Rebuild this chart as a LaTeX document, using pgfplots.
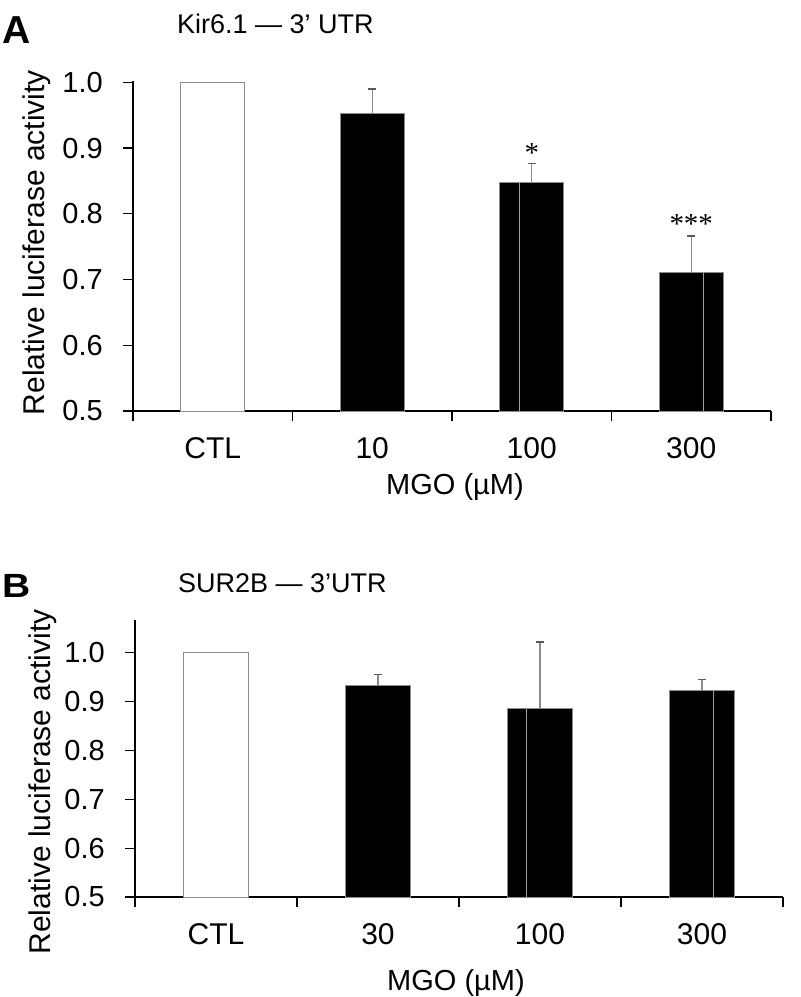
\documentclass[border=0pt]{standalone}
\usepackage{fontspec}
\setmainfont{Liberation Sans}
\newfontfamily\serifast{Liberation Serif}
\usepackage{graphicx}
\usepackage{pgfplots}
\pgfplotsset{compat=1.18}
\definecolor{barline}{gray}{0.55}
\definecolor{errc}{gray}{0.55}
\definecolor{capc}{gray}{0.35}

\pgfplotsset{
  panel/.style={
    scale only axis, anchor=south west,
    axis x line*=bottom, axis y line*=left,
    axis line style={line width=1.3pt, black, -},
    xmin=0.5, xmax=4.5, ymin=0.5,
    xtick={0.5,1.5,2.5,3.5,4.5},
    x tick label as interval,
    ytick={0.5,0.6,0.7,0.8,0.9,1.0},
    tick align=outside, major tick length=10pt,
    tick style={black, line width=1.3pt},
    yticklabel style={font=\fontsize{29}{31}\selectfont, anchor=east, inner sep=0pt, xshift=-20pt,
      /pgf/number format/.cd, fixed, fixed zerofill, precision=1, assume math mode=true},
    xticklabel style={font=\fontsize{30}{32}\selectfont, anchor=north, inner sep=0pt, yshift=-16pt},
    clip=true,
  },
  ctlbar/.style={ybar, bar width=0.4, bar shift=0pt, fill=white, draw=barline, line width=0.9pt},
  blkbar/.style={ybar, bar width=0.4, bar shift=0pt, fill=black, draw=barline, line width=0.9pt,
    error bars/.cd, y dir=plus, y explicit, error mark=|,
    error bar style={errc, line width=1.3pt},
    error mark options={capc, mark size=4pt, line width=1.3pt}},
  artline/.style={ycomb, no markers, draw=gray!75, line width=1.1pt},
}

\begin{document}
\begin{tikzpicture}[x=1pt,y=1pt]
\path[use as bounding box] (0,0) rectangle (801,-997);

% ---------------- Panel A ----------------
\begin{axis}[panel, at={(133pt,-411pt)}, width=638pt, height=330pt, ymax=1.002,
  xticklabels={CTL,10,100,300}]
  \addplot[ctlbar] coordinates {(1,1.0)};
  \addplot[blkbar] coordinates {
    (2,0.953) +- (0,0.037)
    (3,0.847) +- (0,0.029)
    (4,0.711) +- (0,0.055)
  };
  \addplot[artline] coordinates {(2.925,0.847) (4.075,0.711)};
  \node[font=\serifast\fontsize{29}{29}\selectfont, inner sep=0pt, yshift=-5pt] at (axis cs:3,0.900) {*};
  \node[font=\serifast\fontsize{29}{29}\selectfont, inner sep=0pt, yshift=-5pt] at (axis cs:4,0.792) {***};
\end{axis}
\node[anchor=base west, inner sep=0pt, font=\bfseries\fontsize{39}{40}\selectfont] at (2,-43) {A};
\node[anchor=base west, inner sep=0pt, font=\fontsize{27}{29}\selectfont] at (177,-33) {Kir6.1 — 3’ UTR};
\node[rotate=90, anchor=base, inner sep=0pt, font=\fontsize{30}{32}\selectfont] at (45,-242.5) {Relative luciferase activity};
\node[anchor=base, inner sep=0pt, font=\fontsize{29}{31}\selectfont] at (455,-494) {MGO (µM)};

% ---------------- Panel B ----------------
\begin{axis}[panel, at={(135pt,-897pt)}, width=648pt, height=277pt, ymax=1.067,
  xticklabels={CTL,30,100,300}]
  \addplot[ctlbar] coordinates {(1,1.0)};
  \addplot[blkbar] coordinates {
    (2,0.933) +- (0,0.023)
    (3,0.885) +- (0,0.137)
    (4,0.922) +- (0,0.023)
  };
  \addplot[artline] coordinates {(2.914,0.885) (4.07,0.922)};
\end{axis}
\node[anchor=base west, inner sep=0pt, font=\bfseries\fontsize{39}{40}\selectfont] at (2,-597) {\scalebox{1}[0.86]{B}};
\node[anchor=base west, inner sep=0pt, font=\fontsize{27}{29}\selectfont] at (178,-592) {SUR2B — 3’UTR};
\node[rotate=90, anchor=base, inner sep=0pt, font=\fontsize{30}{32}\selectfont] at (50,-782) {Relative luciferase activity};
\node[anchor=base, inner sep=0pt, font=\fontsize{29}{31}\selectfont] at (456,-990) {MGO (µM)};
\end{tikzpicture}
\end{document}
